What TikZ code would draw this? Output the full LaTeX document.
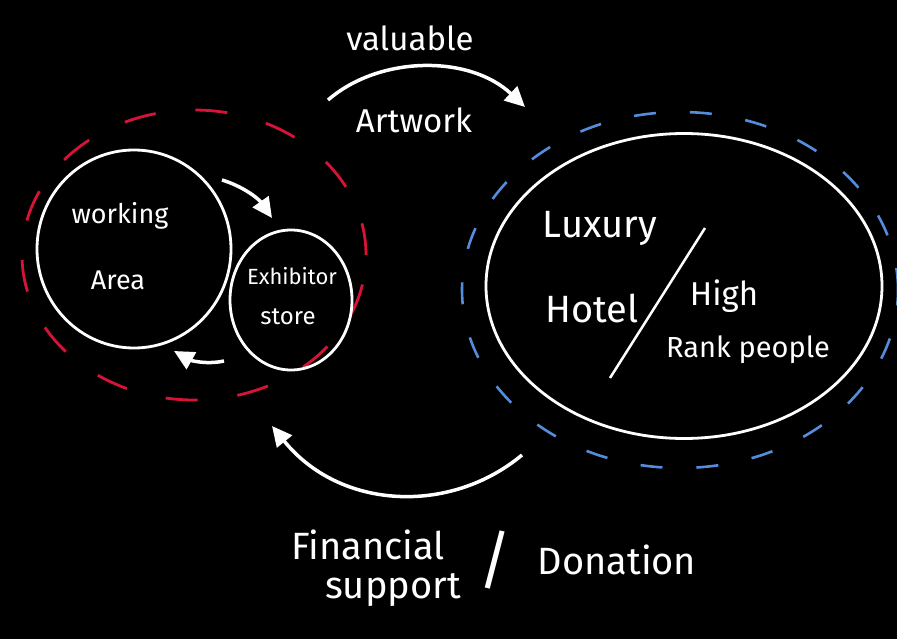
\documentclass[tikz,border=0pt]{standalone}
\usepackage{fontspec}
\setmainfont{Fira Sans}
\usepackage{xcolor}
\usetikzlibrary{shapes.geometric, arrows.meta}

\definecolor{ringred}{RGB}{215,20,55}
\definecolor{ringblue}{RGB}{85,140,220}

\begin{document}
\begin{tikzpicture}[
    x=1pt, y=-1pt,
    every node/.style={text=white},
    blob/.style={ellipse, draw=white, line width=2.8pt, inner sep=0pt},
    redring/.style={ellipse, draw=ringred, line width=2.8pt, dash pattern=on 32pt off 40pt, inner sep=0pt},
    bluering/.style={ellipse, draw=ringblue, line width=2.6pt, dash pattern=on 22pt off 34pt, inner sep=0pt},
    arrow/.style={-{Triangle[length=20pt, width=19pt]}, white, line width=3.5pt},
    small/.style={font=\fontsize{27}{30}\selectfont},
    mid/.style={font=\fontsize{33}{36}\selectfont},
    big/.style={font=\fontsize{38}{42}\selectfont}
]
    \fill[black] (0,0) rectangle (897,639);
    \useasboundingbox (0,0) rectangle (897,639);
    % Rings
    \node[redring, minimum width=344pt, minimum height=290pt] (red) at (194,255) {};
    \node[bluering, minimum width=436pt, minimum height=356pt] (blue) at (680,290) {};
    % Left group
    \node[blob, minimum width=194pt, minimum height=198pt] (work) at (134,249) {};
    \node[blob, minimum width=122pt, minimum height=140pt] (store) at (291,300) {};
    \node[small] (working) at (120,216) {working};
    \node[small] (area) at (118,280) {Area};
    \node[font=\fontsize{22}{24}\selectfont] (exhib) at (292,276) {Exhibitor};
    \node[font=\fontsize{24}{26}\selectfont] (storetxt) at (288,317) {store};
    % Right group
    \node[blob, minimum width=396pt, minimum height=305pt] (hotel) at (684,286) {};
    \node[big] (luxury) at (600,228) {Luxury};
    \node[big] (hoteltxt) at (592,308) {Hotel};
    \node[mid] (high) at (724,296) {High};
    \node[font=\fontsize{29}{32}\selectfont] (rank) at (748,350) {Rank people};
    \draw[white, line width=2.5pt] (705,228) -- (610,378);
    % Labels
    \node[mid] (valuable) at (410,38) {valuable};
    \node[mid] (artwork) at (414,120) {Artwork};
    \node[big] (financial) at (368,545) {Financial};
    \node[big] (support) at (393,590) {support};
    \node[font=\fontsize{64}{70}\selectfont] (slash) at (495,560) {/};
    \node[big] (donation) at (617,560) {Donation};
    % Arrows
    \coordinate (ws1) at (222,180);
    \coordinate (ws2) at (272,218);
    \coordinate (sw1) at (224,361);
    \coordinate (sw2) at (174,351);
    \coordinate (ar1) at (328,100);
    \coordinate (ar2) at (525,107);
    \coordinate (fs1) at (522,455);
    \coordinate (fs2) at (272,426);
    \draw[arrow] (ws1) .. controls (242,186) and (258,198) .. (ws2);
    \draw[arrow] (sw1) .. controls (205,365) and (190,360) .. (sw2);
    \draw[arrow] (ar1) .. controls (380,55) and (470,55) .. (ar2);
    \draw[arrow] (fs1) .. controls (450,515) and (340,510) .. (fs2);
\end{tikzpicture}
\end{document}
